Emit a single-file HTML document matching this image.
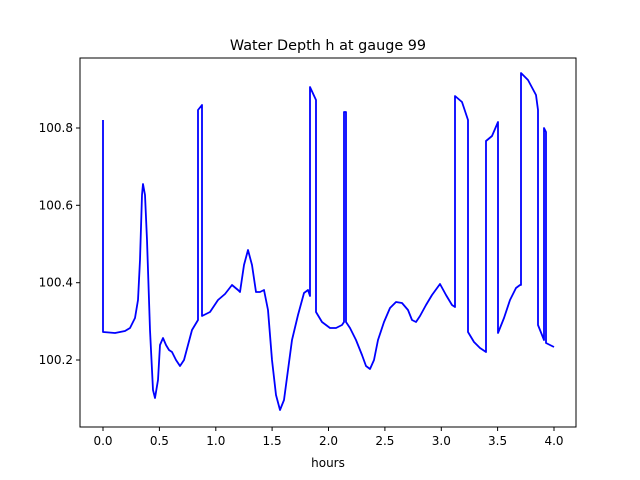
<!DOCTYPE html>
<html><head><meta charset="utf-8"><style>body{margin:0;background:#fff}svg{display:block}text{font-family:"DejaVu Sans","Liberation Sans",sans-serif;font-size:12px;fill:#000}</style></head>
<body>
<svg width="640" height="480" xmlns="http://www.w3.org/2000/svg">
<rect width="640" height="480" fill="#fff"/>
<text x="328" y="50" text-anchor="middle" style="font-size:14.4px">Water Depth h at gauge 99</text>
<polyline fill="none" stroke="#0000ff" stroke-width="1.8" stroke-linejoin="round" points="103,120 103,332 115,333 125,331 130,328 135,318 138,300 140,260 142,195 143,184 145,195 147,240 150,330 153,390 155,398 158,380 160,345 163,338 166,345 169,350 172,352 176,360 180,366 184,360 188,345 192,330 198,320 198,110 202,105 202,316 210,312 218,300 225,294 232,285 238,290 240,292 244,265 248,250 252,265 256,292 260,292 264,290 268,310 272,360 276,395 280,410 284,400 288,370 292,340 298,315 304,293 308,290 310,296 310,87 316,100 316,312 322,322 330,328 336,328 342,325 344,322 344,112 346,112 346,322 350,328 356,340 362,355 366,366 370,369 374,360 378,340 384,322 390,308 396,302 402,303 408,310 412,320 416,322 420,316 426,305 432,295 440,284 446,295 452,305 455,307 455,96 462,102 468,120 468,332 474,342 480,348 486,352 486,141 492,136 498,122 498,333 504,318 510,300 516,288 520,285 521,285 521,73 528,80 536,95 538,110 538,325 544,340 544,128 546,132 546,343 554,347"/>
<rect x="80" y="58" width="496" height="369" fill="none" stroke="#000" stroke-width="1"/>
<g stroke="#000">
<line x1="103" y1="427" x2="103" y2="431"/><line x1="159.4" y1="427" x2="159.4" y2="431"/><line x1="215.8" y1="427" x2="215.8" y2="431"/><line x1="272.1" y1="427" x2="272.1" y2="431"/><line x1="328.5" y1="427" x2="328.5" y2="431"/><line x1="384.9" y1="427" x2="384.9" y2="431"/><line x1="441.3" y1="427" x2="441.3" y2="431"/><line x1="497.6" y1="427" x2="497.6" y2="431"/><line x1="554" y1="427" x2="554" y2="431"/>
<line x1="76" y1="128" x2="80" y2="128"/><line x1="76" y1="205.3" x2="80" y2="205.3"/><line x1="76" y1="282.7" x2="80" y2="282.7"/><line x1="76" y1="360" x2="80" y2="360"/>
</g>
<g text-anchor="middle">
<text x="103" y="445">0.0</text><text x="159.4" y="445">0.5</text><text x="215.8" y="445">1.0</text><text x="272.1" y="445">1.5</text><text x="328.5" y="445">2.0</text><text x="384.9" y="445">2.5</text><text x="441.3" y="445">3.0</text><text x="497.6" y="445">3.5</text><text x="554" y="445">4.0</text>
<text x="328" y="467">hours</text>
</g>
<g text-anchor="end">
<text x="73" y="132">100.8</text><text x="73" y="209.3">100.6</text><text x="73" y="286.7">100.4</text><text x="73" y="364">100.2</text>
</g>
</svg>
</body></html>
